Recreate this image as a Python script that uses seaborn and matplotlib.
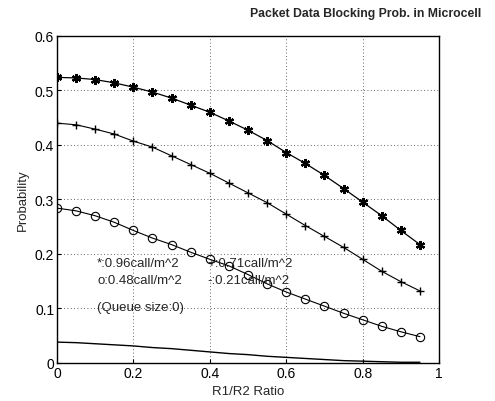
import numpy as np
import pandas as pd
import matplotlib
matplotlib.use("Agg")
import matplotlib.pyplot as plt
import seaborn as sns

# R1/R2 ratio sample points
ratio = [0.00, 0.05, 0.10, 0.15, 0.20, 0.25, 0.30, 0.35, 0.40, 0.45,
         0.50, 0.55, 0.60, 0.65, 0.70, 0.75, 0.80, 0.85, 0.90, 0.95]

# blocking probability per traffic load
prob_096 = [0.524, 0.523, 0.520, 0.514, 0.506, 0.497, 0.486, 0.473, 0.460, 0.444,
            0.427, 0.408, 0.386, 0.366, 0.344, 0.320, 0.295, 0.270, 0.243, 0.217]
prob_071 = [0.440, 0.437, 0.429, 0.420, 0.407, 0.396, 0.380, 0.364, 0.348, 0.330,
            0.312, 0.294, 0.273, 0.252, 0.232, 0.212, 0.190, 0.168, 0.149, 0.132]
prob_048 = [0.284, 0.279, 0.270, 0.258, 0.243, 0.229, 0.217, 0.203, 0.190, 0.178,
            0.162, 0.145, 0.130, 0.117, 0.104, 0.091, 0.079, 0.067, 0.057, 0.048]
prob_021 = [0.038, 0.037, 0.035, 0.033, 0.031, 0.028, 0.026, 0.023, 0.020, 0.017,
            0.015, 0.012, 0.010, 0.008, 0.006, 0.004, 0.003, 0.002, 0.001, 0.001]

legend_lines = ["*:0.96call/m^2", "o:0.48call/m^2", "+:0.71call/m^2", "-:0.21call/m^2"]

sns.set_style("ticks")
plt.rcParams["font.family"] = ["Liberation Sans", "DejaVu Sans"]

fig = plt.figure(figsize=(4.95, 4.02), dpi=100)
ax = fig.add_axes([0.115, 0.095, 0.772, 0.813])

df = pd.DataFrame({"ratio": ratio, "p096": prob_096, "p071": prob_071,
                   "p048": prob_048, "p021": prob_021})

sns.lineplot(data=df, x="ratio", y="p096", ax=ax, color="black", lw=0.9,
             marker=(6, 2, 0), markersize=6.5, markeredgewidth=1.6, mec="black")
sns.lineplot(data=df, x="ratio", y="p071", ax=ax, color="black", lw=0.8,
             marker="+", markersize=6, markeredgewidth=1.0, mec="black")
sns.lineplot(data=df, x="ratio", y="p048", ax=ax, color="black", lw=0.8,
             marker="o", markersize=6, mfc="none", markeredgewidth=0.8, mec="black")
sns.lineplot(data=df, x="ratio", y="p021", ax=ax, color="black", lw=1.0)

ax.set_xlim(0, 1)
ax.set_ylim(0, 0.6)
ax.set_xticks([0, 0.2, 0.4, 0.6, 0.8, 1])
ax.set_xticklabels(["0", "0.2", "0.4", "0.6", "0.8", "1"])
ax.set_yticks([0, 0.1, 0.2, 0.3, 0.4, 0.5, 0.6])
ax.set_yticklabels(["0", "0.1", "0.2", "0.3", "0.4", "0.5", "0.6"])
ax.grid(True, color="#333333", linestyle=(0, (1, 3)), linewidth=0.6)
ax.tick_params(direction="in", length=3, labelsize=10, colors="black", pad=2)
for s in ax.spines.values():
    s.set_color("black")
    s.set_linewidth(1.0)

ax.set_xlabel("R1/R2 Ratio", fontsize=9.5, labelpad=4)
ax.set_ylabel("Probability", fontsize=9.5, labelpad=4)

ax.text(0.105, 0.183, legend_lines[0], fontsize=9.5, va="center")
ax.text(0.105, 0.152, legend_lines[1], fontsize=9.5, va="center")
ax.text(0.395, 0.183, legend_lines[2], fontsize=9.5, va="center")
ax.text(0.395, 0.152, legend_lines[3], fontsize=9.5, va="center")
ax.text(0.105, 0.103, "(Queue size:0)", fontsize=9.5, va="center")

fig.text(0.972, 0.965, "Packet Data Blocking Prob. in Microcell",
         ha="right", va="center", fontsize=8.8, fontweight="bold")

fig.savefig("out.png", dpi=100)
